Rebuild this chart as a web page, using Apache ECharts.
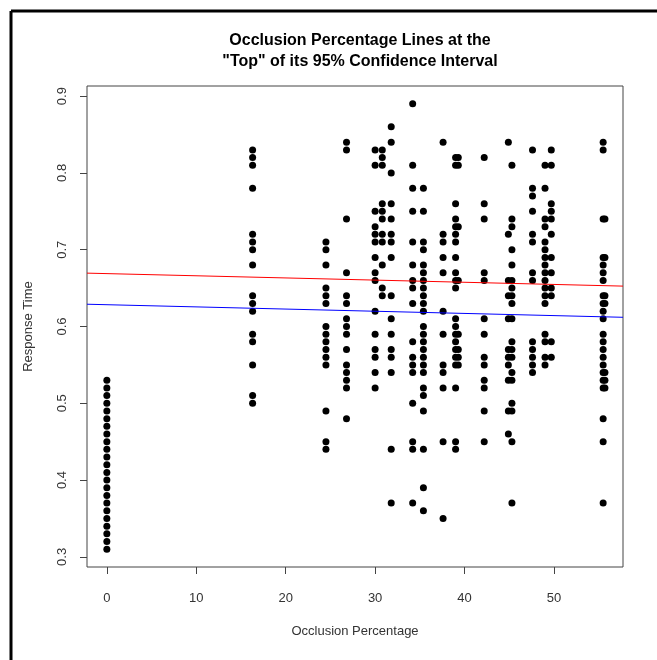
<!DOCTYPE html>
<html>
<head>
<meta charset="utf-8">
<script src="https://cdn.jsdelivr.net/npm/echarts@6/dist/echarts.min.js"></script>
<style>
html,body{margin:0;padding:0;background:#fff;}
#chart{width:657px;height:660px;}
</style>
</head>
<body>
<div id="chart"></div>
<script>
// ---- Data ----
const titleLines = ['Occlusion Percentage Lines at the', '"Top" of its 95% Confidence Interval'];
const xTicks = [0, 10, 20, 30, 40, 50];
const yTicks = [0.3, 0.4, 0.5, 0.6, 0.7, 0.8, 0.9];
const xRange = [-2.22, 57.72];
const yRange = [0.2868, 0.9132];

// occlusion percentage levels (x) and the response times observed at each
const occlusionLevels = [0, 16.3, 24.5, 26.8, 30.0, 30.8, 31.8, 34.2, 35.4, 37.6, 39.0, 39.3, 42.2, 44.9, 45.3, 47.6, 49.0, 49.7, 55.5, 55.7];
const rt_0    = [0.31,0.32,0.33,0.34,0.35,0.36,0.37,0.38,0.39,0.40,0.41,0.42,0.43,0.44,0.45,0.46,0.47,0.48,0.49,0.50,0.51,0.52,0.53];
const rt_16_3 = [0.83,0.82,0.81,0.78,0.72,0.71,0.70,0.68,0.64,0.63,0.62,0.59,0.58,0.55,0.51,0.50];
const rt_24_5 = [0.71,0.70,0.68,0.65,0.64,0.63,0.60,0.59,0.58,0.57,0.56,0.55,0.49,0.45,0.44];
const rt_26_8 = [0.84,0.83,0.74,0.67,0.64,0.63,0.61,0.60,0.59,0.57,0.55,0.54,0.53,0.52,0.48];
const rt_30_0 = [0.83,0.81,0.75,0.73,0.72,0.71,0.69,0.67,0.66,0.62,0.59,0.57,0.56,0.54,0.52];
const rt_30_8 = [0.83,0.82,0.81,0.76,0.75,0.74,0.72,0.71,0.68,0.65,0.64];
const rt_31_8 = [0.86,0.84,0.80,0.76,0.74,0.72,0.71,0.69,0.64,0.61,0.59,0.57,0.56,0.54,0.44,0.37];
const rt_34_2 = [0.89,0.81,0.78,0.75,0.71,0.68,0.66,0.65,0.63,0.58,0.56,0.55,0.54,0.50,0.45,0.44,0.37];
const rt_35_4 = [0.78,0.75,0.71,0.70,0.68,0.67,0.66,0.65,0.64,0.63,0.62,0.60,0.59,0.58,0.57,0.56,0.55,0.54,0.52,0.51,0.49,0.44,0.39,0.36];
const rt_37_6 = [0.84,0.72,0.71,0.69,0.67,0.62,0.59,0.55,0.54,0.52,0.45,0.35];
const rt_39_0 = [0.82,0.81,0.76,0.74,0.73,0.72,0.71,0.69,0.67,0.66,0.65,0.61,0.60,0.59,0.58,0.57,0.56,0.55,0.52,0.45,0.44];
const rt_39_3 = [0.82,0.81,0.73,0.66,0.59,0.57,0.56,0.55];
const rt_42_2 = [0.82,0.76,0.74,0.67,0.66,0.61,0.59,0.56,0.55,0.53,0.52,0.49,0.45];
const rt_44_9 = [0.84,0.72,0.66,0.64,0.61,0.57,0.56,0.55,0.53,0.49,0.46];
const rt_45_3 = [0.81,0.74,0.73,0.70,0.68,0.66,0.65,0.64,0.63,0.61,0.58,0.57,0.56,0.54,0.53,0.50,0.49,0.45,0.37];
const rt_47_6 = [0.83,0.78,0.77,0.75,0.72,0.71,0.67,0.66,0.58,0.57,0.56,0.55,0.54];
const rt_49_0 = [0.81,0.78,0.74,0.73,0.71,0.70,0.69,0.68,0.67,0.66,0.65,0.64,0.63,0.59,0.58,0.56,0.55];
const rt_49_7 = [0.83,0.81,0.76,0.75,0.74,0.72,0.69,0.67,0.65,0.64,0.58,0.56];
const rt_55_5 = [0.84,0.83,0.74,0.69,0.68,0.67,0.66,0.64,0.63,0.62,0.61,0.59,0.58,0.57,0.56,0.55,0.54,0.53,0.52,0.48,0.45,0.37];
const rt_55_7 = [0.74,0.69,0.64,0.63,0.54,0.53,0.52];
const responseTimes = [rt_0, rt_16_3, rt_24_5, rt_26_8, rt_30_0, rt_30_8, rt_31_8, rt_34_2, rt_35_4, rt_37_6, rt_39_0, rt_39_3, rt_42_2, rt_44_9, rt_45_3, rt_47_6, rt_49_0, rt_49_7, rt_55_5, rt_55_7];

// fitted lines (endpoints across the plotting region)
const redLine  = [[-2.22, 0.6695], [57.72, 0.6526]];
const blueLine = [[-2.22, 0.6290], [57.72, 0.6120]];

// ---- Build ----
const points = [];
occlusionLevels.forEach((x, i) => responseTimes[i].forEach(y => points.push([x, y])));

const FONT = 'Liberation Sans, Arial, sans-serif';
const GL = 87, GT = 86, GW = 536, GH = 481;

const chart = echarts.init(document.getElementById('chart'), null, {renderer: 'canvas'});
chart.setOption({
  animation: false,
  backgroundColor: '#fff',
  title: {
    text: titleLines.join('\n'),
    left: GL + GW / 2, top: 25, textAlign: 'center',
    textStyle: {fontFamily: FONT, fontWeight: 'bold', fontSize: 16, lineHeight: 21, color: '#000'}
  },
  grid: {left: GL, top: GT, width: GW, height: GH, show: true, borderColor: '#444', borderWidth: 1, backgroundColor: 'transparent'},
  xAxis: {
    type: 'value', min: xRange[0], max: xRange[1],
    name: 'Occlusion Percentage', nameLocation: 'middle', nameGap: 58,
    nameTextStyle: {fontFamily: FONT, fontSize: 13, color: '#333'},
    axisLine: {show: false, onZero: false}, splitLine: {show: false},
    axisTick: {show: true, length: 7, customValues: xTicks, lineStyle: {color: '#444'}},
    axisLabel: {customValues: xTicks, margin: 25, fontFamily: FONT, fontSize: 13, color: '#333', formatter: v => String(v)}
  },
  yAxis: {
    type: 'value', min: yRange[0], max: yRange[1],
    name: 'Response Time', nameLocation: 'middle', nameGap: 52, nameRotate: 90,
    nameTextStyle: {fontFamily: FONT, fontSize: 13, color: '#333'},
    axisLine: {show: false, onZero: false}, splitLine: {show: false},
    axisTick: {show: true, length: 7, customValues: yTicks, lineStyle: {color: '#444'}},
    axisLabel: {customValues: yTicks, rotate: 90, margin: 18, fontFamily: FONT, fontSize: 13, color: '#333', formatter: v => v.toFixed(1)}
  },
  graphic: [
    {type: 'line', shape: {x1: 11, y1: 11, x2: 657, y2: 11}, style: {stroke: '#000', lineWidth: 3}},
    {type: 'line', shape: {x1: 11, y1: 11, x2: 11, y2: 660}, style: {stroke: '#000', lineWidth: 3}}
  ],
  series: [
    {type: 'scatter', data: points, symbol: 'circle', symbolSize: 7, itemStyle: {color: '#000', opacity: 1}, silent: true},
    {type: 'line', data: redLine, showSymbol: false, lineStyle: {color: '#ff0000', width: 1}, silent: true, z: 3},
    {type: 'line', data: blueLine, showSymbol: false, lineStyle: {color: '#0000ff', width: 1}, silent: true, z: 3}
  ]
});
</script>
</body>
</html>
